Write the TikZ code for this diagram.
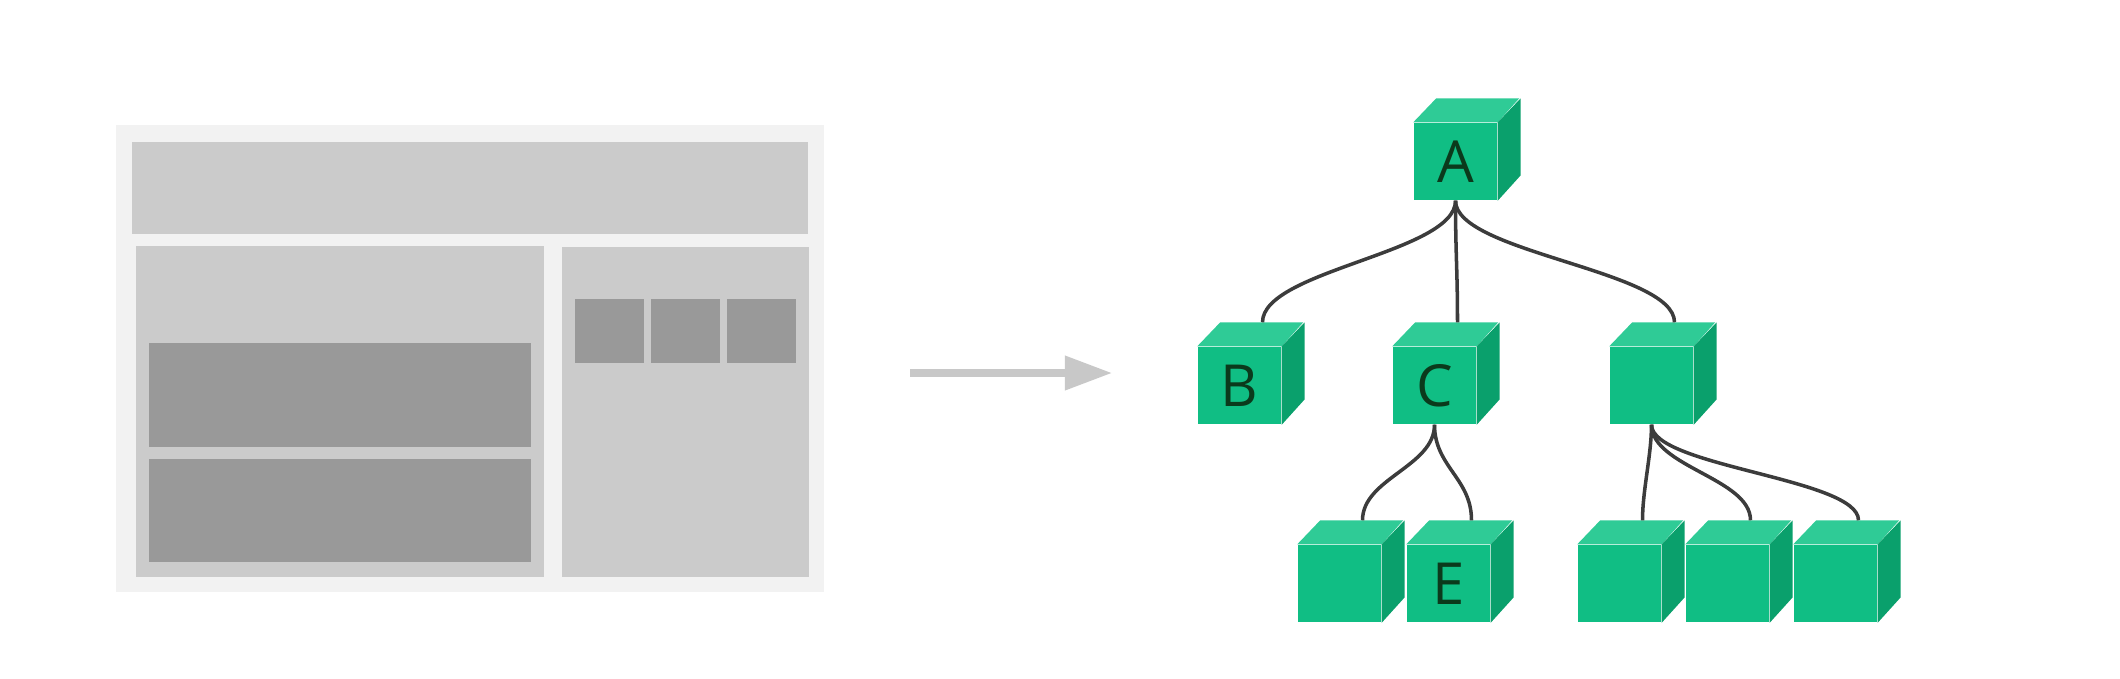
\documentclass[tikz,border=0pt]{standalone}
\usepackage{fontspec}
\usetikzlibrary{arrows.meta,calc}
\newfontfamily\cubefont{Open Sans}

\definecolor{pageouter}{HTML}{F2F2F2}
\definecolor{pagepanel}{HTML}{CBCBCB}
\definecolor{pageblock}{HTML}{999999}
\definecolor{arrowgray}{HTML}{C8C8C8}
\definecolor{cubefront}{HTML}{10BE84}
\definecolor{cubetop}{HTML}{2FCB96}
\definecolor{cubeside}{HTML}{0AA06C}
\definecolor{cubetext}{HTML}{0B3A1C}
\definecolor{linkgray}{HTML}{3C3C3C}

\tikzset{
  cube/.style={rectangle, fill=cubefront, inner sep=0pt,
    minimum width=0.83cm, minimum height=0.77cm,
    font=\cubefont\fontsize{16.5}{18}\selectfont, text=cubetext},
  link/.style={draw=linkgray, line width=1pt},
}
% top edge middle at the back of a cube
\newcommand{\backtop}[1]{($(#1.north)+(23,-24)$)}

\begin{document}
\begin{tikzpicture}[x=0.01cm, y=-0.01cm]
    \useasboundingbox (0,0) rectangle (2120,678);

    % Seite
    \fill[pageouter] (116,125) rectangle (824,592);
    \fill[pagepanel] (132,142) rectangle (808,234);
    \fill[pagepanel] (136,246) rectangle (544,577);
    \fill[pagepanel] (562,247) rectangle (809,577);
    \fill[pageblock] (149,343) rectangle (531,447);
    \fill[pageblock] (149,459) rectangle (531,562);
    \foreach \x in {575,651,727}
        \fill[pageblock] (\x,299) rectangle ++(69,64);

    % Pfeil
    \coordinate (from) at (910,373);
    \coordinate (to) at (1112,373);
    \draw[arrowgray, line width=2pt, -{Triangle[length=0.47cm, width=0.33cm]}] (from) -- (to);

    % Baum
    \node[cube] (A) at (1455.5,161.5) {A};
    \node[cube] (B) at (1239.5,385.5) {B};
    \node[cube] (C) at (1434.5,385.5) {C};
    \node[cube] (X) at (1651.5,385.5) {};
    \node[cube] (D) at (1339.5,583.5) {};
    \node[cube] (E) at (1448.5,583.5) {E};
    \node[cube] (F) at (1619.5,583.5) {};
    \node[cube] (G) at (1727.5,583.5) {};
    \node[cube] (H) at (1835.5,583.5) {};

    \foreach \n in {A,B,C,X,D,E,F,G,H}{
        \fill[cubetop] (\n.north west) -- ++(23,-24) -- ++(83,0) -- (\n.north east) -- cycle;
        \fill[cubeside] (\n.north east) -- ++(23,-24) -- ++(0,77) -- (\n.south east) -- cycle;
    }

    % Kanten
    \foreach \a/\b/\l in {A/B/52,A/C/52,A/X/52,C/D/42,C/E/42,X/F/30,X/G/42,X/H/42}
        \draw[link] (\a.south) .. controls +(0,\l) and +(0,-\l) .. \backtop{\b};
\end{tikzpicture}
\end{document}
